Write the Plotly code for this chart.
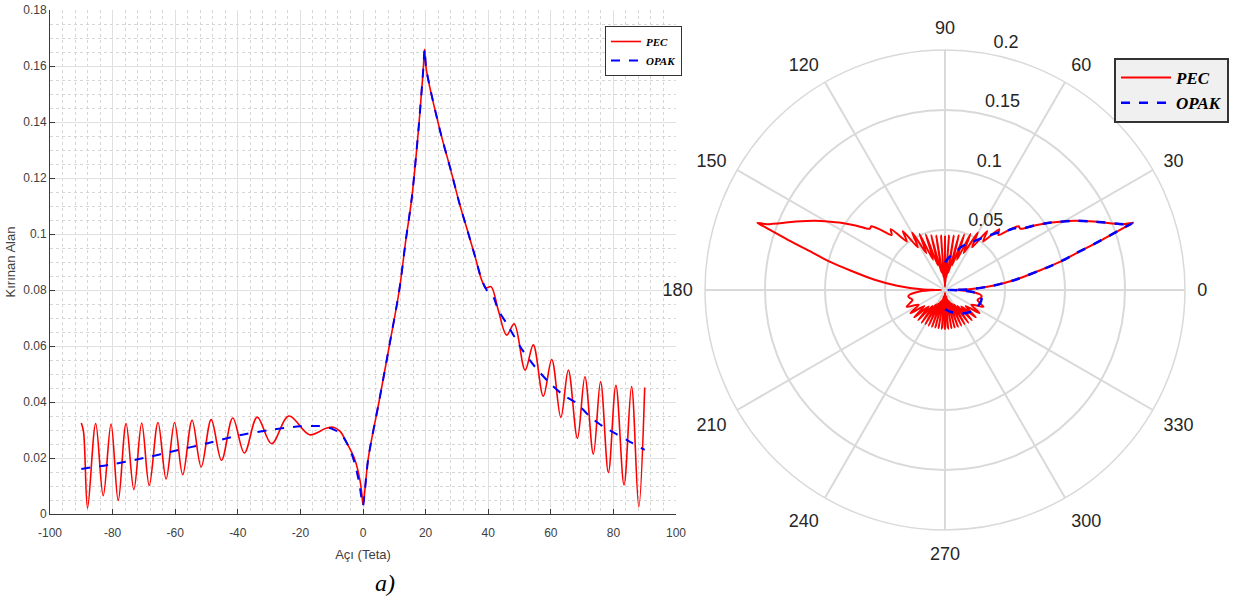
import plotly.graph_objects as go

# ---------------- data ----------------
# Left chart: diffracted field vs angle
pec_x = [-90, -89.3, -88, -85.4, -83, -80.5, -78.2, -75.7, -73.2, -70.7, -68.3, -65.5,
         -62.9, -60.2, -57.6, -54.6, -51.7, -48.5, -45.2, -41.6, -37.9, -33.8, -29.2,
         -23.7, -17.1, -12, -9.5, -7.3, -5.2, -2.6, -1.0, -0.4, 0, 0.6, 1.7, 5.1, 8.4,
         11.6, 13.7, 15.6, 17.7, 19.2, 19.7, 20.2, 24.6, 28.0, 30.8, 33.7, 35.8, 37.9,
         39.3, 40.9, 43.2, 45.9, 48.3, 51.8, 54.4, 57.6, 60.3, 63.2, 65.6, 68.5, 70.9,
         73.6, 75.9, 78.4, 80.8, 83.4, 85.8, 88.1, 90]
pec_y = [0.0325, 0.0295, 0.0021, 0.0323, 0.0065, 0.0321, 0.0048, 0.0323, 0.0087, 0.0325,
         0.0102, 0.0327, 0.0125, 0.0327, 0.0140, 0.0335, 0.0168, 0.0337, 0.0192, 0.0343,
         0.0218, 0.0346, 0.0251, 0.0350, 0.0283, 0.0305, 0.0310, 0.0295, 0.0254, 0.0194,
         0.0123, 0.0075, 0.0033, 0.0085, 0.0200, 0.0400, 0.0600, 0.0800, 0.0980, 0.1130,
         0.1370, 0.1580, 0.1660, 0.1590, 0.1370, 0.1230, 0.1110, 0.1000, 0.0920, 0.0836,
         0.0808, 0.0812, 0.0729, 0.0639, 0.0679, 0.0514, 0.0604, 0.0421, 0.0552, 0.0345,
         0.0514, 0.0270, 0.0490, 0.0214, 0.0473, 0.0148, 0.0460, 0.0104, 0.0455, 0.0026,
         0.0452]

opak_x = [-90, -80, -70, -60, -50, -40, -30, -20, -14, -10, -7, -4.2, -2.5, -1.2, 0,
          0.6, 1.7, 5.1, 8.4, 11.6, 13.7, 15.6, 17.7, 19.2, 19.7, 20.2, 24.6, 28.0, 30.8,
          33.7, 35.8, 37.9, 39.5, 41.6, 43.2, 45.9, 50.9, 55.0, 59.7, 64.0, 68.3, 72.5,
          76.8, 81.0, 85.3, 90]
opak_y = [0.0161, 0.0178, 0.0200, 0.0226, 0.0252, 0.0280, 0.0300, 0.0313, 0.0314, 0.0305,
          0.0285, 0.0232, 0.0175, 0.0110, 0.0030, 0.0085, 0.0200, 0.0400, 0.0600, 0.0800,
          0.0980, 0.1130, 0.1370, 0.1580, 0.1660, 0.1590, 0.1370, 0.1230, 0.1110, 0.1000,
          0.0920, 0.0838, 0.0800, 0.0776, 0.0729, 0.0680, 0.0586, 0.0525, 0.0467, 0.0425,
          0.0395, 0.0348, 0.0312, 0.0285, 0.0258, 0.0229]

x_ticks = [-100, -80, -60, -40, -20, 0, 20, 40, 60, 80, 100]
x_tick_labels = ["-100", "-80", "-60", "-40", "-20", "0", "20", "40", "60", "80", "100"]
y_ticks = [0, 0.02, 0.04, 0.06, 0.08, 0.1, 0.12, 0.14, 0.16, 0.18]
y_tick_labels = ["0", "0.02", "0.04", "0.06", "0.08", "0.1", "0.12", "0.14", "0.16", "0.18"]

polar_angle_ticks = [0, 30, 60, 90, 120, 150, 180, 210, 240, 270, 300, 330]
polar_angle_labels = ["0", "30", "60", "90", "120", "150", "180", "210", "240", "270", "300", "330"]
polar_r_ticks = [0.05, 0.1, 0.15, 0.2]
polar_r_labels = ["0.05", "0.1", "0.15", "0.2"]
polar_r_label_angle = 82  # radial labels sit along the 82 degree direction

# polar: PEC over -90..90 plus its mirror (180 - angle); OPAK over -90..90
pec_theta = pec_x + [180 - a for a in reversed(pec_x)]
pec_r = pec_y + list(reversed(pec_y))

# ---------------- figure ----------------
W, H = 1252, 601
fig = go.Figure()

fig.add_trace(go.Scatter(x=pec_x, y=pec_y, name="PEC", mode="lines",
                         line=dict(color="#ff0000", width=1.6, shape="spline", smoothing=1.0),
                         legend="legend"))
fig.add_trace(go.Scatter(x=opak_x, y=opak_y, name="OPAK", mode="lines",
                         line=dict(color="#0000ff", width=2, dash="dash", shape="spline",
                                   smoothing=0.8),
                         legend="legend"))

fig.add_trace(go.Scatterpolar(theta=pec_theta, r=pec_r, name="PEC", mode="lines",
                              line=dict(color="#ff0000", width=2, shape="spline", smoothing=0.8),
                              legend="legend2", subplot="polar"))
fig.add_trace(go.Scatterpolar(theta=opak_x, r=opak_y, name="OPAK", mode="lines",
                              line=dict(color="#0000ff", width=2.5, dash="dash", shape="spline",
                                        smoothing=0.8),
                              legend="legend2", subplot="polar"))
# radial tick labels (MATLAB style, along ~82 degrees, with leading spaces)
fig.add_trace(go.Scatterpolar(theta=[polar_r_label_angle] * len(polar_r_ticks), r=polar_r_ticks,
                              text=["\u00a0\u00a0\u00a0" + t for t in polar_r_labels],
                              mode="text", textposition="top right",
                              textfont=dict(size=18, color="#262626", family="Liberation Sans"),
                              showlegend=False, hoverinfo="skip", subplot="polar"))

grid_col = "#e0e0e0"
minor_col = "#d6d6d6"
fig.update_layout(
    width=W, height=H, margin=dict(l=0, r=0, t=0, b=0),
    paper_bgcolor="white", plot_bgcolor="white",
    font=dict(family="Liberation Sans", color="#404040"),
    xaxis=dict(domain=[50 / W, 676 / W], range=[-100, 100], tickvals=x_ticks,
               ticktext=x_tick_labels, showgrid=True, gridcolor=grid_col, gridwidth=1,
               zeroline=False, showline=True, linecolor="#3a3a3a", linewidth=1,
               ticks="inside", ticklen=5, tickcolor="#3a3a3a", tickfont=dict(size=12),
               ticklabelstandoff=8, automargin=False,
               minor=dict(dtick=4, showgrid=True, gridcolor=minor_col, griddash="dot",
                          gridwidth=1),
               title=dict(text="Açı (Teta)", font=dict(size=13, color="#404040"), standoff=10)),
    yaxis=dict(domain=[(H - 514) / H, (H - 10) / H], range=[0, 0.18], tickvals=y_ticks,
               ticktext=y_tick_labels, showgrid=True, gridcolor=grid_col, gridwidth=1,
               zeroline=False, showline=True, linecolor="#3a3a3a", linewidth=1,
               ticks="inside", ticklen=5, tickcolor="#3a3a3a", tickfont=dict(size=12),
               automargin=False,
               minor=dict(dtick=0.005, showgrid=True, gridcolor=minor_col, griddash="dot",
                          gridwidth=1),
               title=dict(text="Kırınan Alan", font=dict(size=13, color="#404040"), standoff=4)),
    legend=dict(x=605 / W, y=(H - 26) / H, xanchor="left", yanchor="top",
                bgcolor="white", bordercolor="#333333", borderwidth=1,
                font=dict(family="Liberation Serif", size=11, color="black",
                          weight="bold", style="italic"),
                tracegroupgap=0),
    legend2=dict(x=1114 / W, y=(H - 58) / H, xanchor="left", yanchor="top",
                 bgcolor="#f0f0f0", bordercolor="#333333", borderwidth=2,
                 font=dict(family="Liberation Serif", size=17, color="black",
                           weight="bold", style="italic"),
                 itemwidth=50),
    polar=dict(
        domain=dict(x=[(945 - 240) / W, (945 + 240) / W],
                    y=[(H - 290 - 240) / H, (H - 290 + 240) / H]),
        bgcolor="white",
        angularaxis=dict(rotation=0, direction="counterclockwise", tickmode="array",
                         tickvals=polar_angle_ticks, ticktext=polar_angle_labels,
                         showline=True, linecolor="#d9d9d9", linewidth=1.5,
                         gridcolor="#d9d9d9", gridwidth=1.5, ticks="outside", ticklen=8,
                         tickcolor="rgba(0,0,0,0)",
                         tickfont=dict(size=18, color="#262626", family="Liberation Sans")),
        radialaxis=dict(range=[0, 0.2], tickmode="array", tickvals=polar_r_ticks,
                        showticklabels=False, angle=80, showline=False, ticks="",
                        gridcolor="#d9d9d9", gridwidth=1.5),
    ),
    annotations=[dict(text="<i>a)</i>", x=385 / W, y=(H - 583) / H, xref="paper",
                      yref="paper", showarrow=False, xanchor="center", yanchor="middle",
                      font=dict(family="Liberation Serif", size=24, color="black"))],
)

fig.write_html("out.html")
